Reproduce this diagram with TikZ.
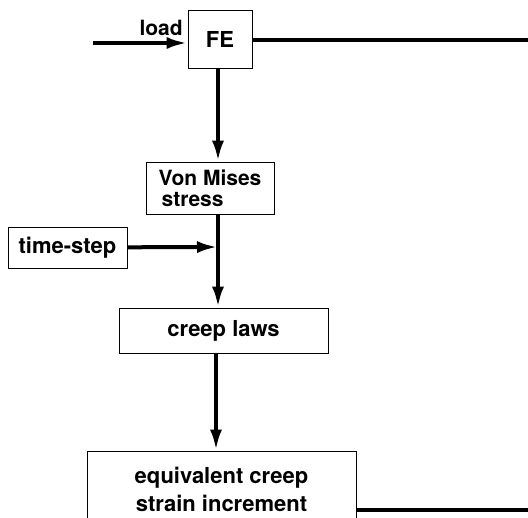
\documentclass[tikz,border=0pt]{standalone}
\usepackage{fontspec}
\setmainfont{TeX Gyre Heros}
\usetikzlibrary{arrows.meta,positioning,calc}

\begin{document}
\begin{tikzpicture}[x=1pt,y=-1pt,
          blk/.style={draw,line width=0.8pt,inner sep=0pt,align=center,
                      font=\bfseries\fontsize{22}{22}\selectfont},
          flow/.style={-{Latex[length=21pt,width=12pt]},line width=4pt},
          wire/.style={line width=4pt}
        ]
        \clip (0,0) rectangle (528,518);
        \node[blk,minimum width=64pt,minimum height=58pt]  (fe) at (220,39)    {FE};
        \node[blk,minimum width=128pt,minimum height=52pt,align=left,
              font=\bfseries\fontsize{21}{21}\selectfont] (vm) at (210,188) {Von Mises\\\hspace*{3pt}stress};
        \node[blk,minimum width=119pt,minimum height=41pt] (ts) at (67.5,247.5) {time-step};
        \node[blk,minimum width=209pt,minimum height=45pt] (cl) at (223.5,330.5) {creep laws};
        \node[blk,minimum width=269pt,minimum height=76pt,
              font=\bfseries\fontsize{22}{28}\selectfont] (eq) at (221.5,489) {equivalent creep\\strain increment};
        % inputs and outputs
        \coordinate (loadin) at (93,43);
        \coordinate (feout)  at (528,40);
        \coordinate (eqout)  at (528,510);
        \coordinate (join)   at (218,247);
        \draw[flow] (loadin) -- node[pos=0.72,above=2pt,font=\bfseries\fontsize{21}{21}\selectfont]{load} (loadin -| fe.west);
        \draw[wire] (fe.east |- feout) -- (feout);
        \draw[flow] (fe.south -| join) -- (vm.north -| join);
        \draw[wire] (vm.south -| join) -- (join);
        \draw[flow] (ts) -- (join);
        \draw[flow] (join) -- (cl.north -| join);
        \draw[flow] (cl.south -| 216,0) -- (eq.north -| 216,0);
        \draw[wire] (eq.east |- eqout) -- (eqout);
      \end{tikzpicture}
\end{document}
